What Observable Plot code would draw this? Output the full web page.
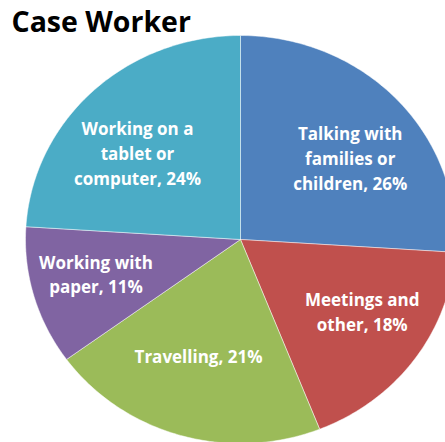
<!DOCTYPE html>
<html>
<head>
<meta charset="utf-8">
<script src="https://cdn.jsdelivr.net/npm/d3@7"></script>
<script src="https://cdn.jsdelivr.net/npm/@observablehq/plot@0.6"></script>
<style>
  html, body { margin: 0; padding: 0; background: #fff; overflow: hidden; }
  #chart { width: 445px; height: 442px; }
</style>
</head>
<body>
<div id="chart"></div>
<script>
// Data (clockwise from 12 o'clock)
const title = "Case Worker";
const categories = ["Talking with families or children", "Meetings and other", "Travelling", "Working with paper", "Working on a tablet or computer"];
const labelLines = ["Talking with\nfamilies or\nchildren", "Meetings and\nother", "Travelling", "Working with\npaper", "Working on a\ntablet or\ncomputer"];
const values = [26, 18, 21, 11, 24];
const colors = ["#4F81BD", "#C0504D", "#9BBB59", "#8064A2", "#4BACC6"];

const total = d3.sum(values);
const slices = [];
const labels = [];
let acc = 0;
values.forEach((v, i) => {
  const a0 = acc / total * 2 * Math.PI;
  acc += v;
  const a1 = acc / total * 2 * Math.PI;
  const steps = Math.max(2, Math.ceil((a1 - a0) / (Math.PI / 180)));
  slices.push({cat: categories[i], x: 0, y: 0});
  for (let s = 0; s <= steps; s++) {
    const a = a0 + (a1 - a0) * s / steps;
    slices.push({cat: categories[i], x: Math.sin(a), y: Math.cos(a)});
  }
  slices.push({cat: categories[i], x: 0, y: 0});
  const am = (a0 + a1) / 2;
  labels.push({x: 0.70 * Math.sin(am), y: 0.59 * Math.cos(am), text: `${labelLines[i]}, ${v}%`});
});

const chart = Plot.plot({
  width: 445,
  height: 442,
  margin: 0,
  x: {domain: [-1, 1], range: [25, 455], axis: null},
  y: {domain: [-1, 1], range: [443, 35], axis: null},
  color: {domain: categories, range: colors},
  style: {fontFamily: "'Open Sans', sans-serif", background: "white"},
  marks: [
    Plot.line(slices, {x: "x", y: "y", z: "cat", fill: "cat", stroke: "white", strokeWidth: 0.8, strokeOpacity: 0.6, curve: "linear-closed"}),
    Plot.text(labels, {x: "x", y: "y", text: "text", fill: "white", fontWeight: "bold", fontSize: 17, lineHeight: 1.46, textAnchor: "middle"}),
    Plot.text([title], {frameAnchor: "top-left", dx: 11, dy: 11, fontSize: 28.5, fontWeight: "bold", fill: "black", textAnchor: "start", lineAnchor: "top"})
  ]
});
document.getElementById("chart").appendChild(chart);
</script>
</body>
</html>
